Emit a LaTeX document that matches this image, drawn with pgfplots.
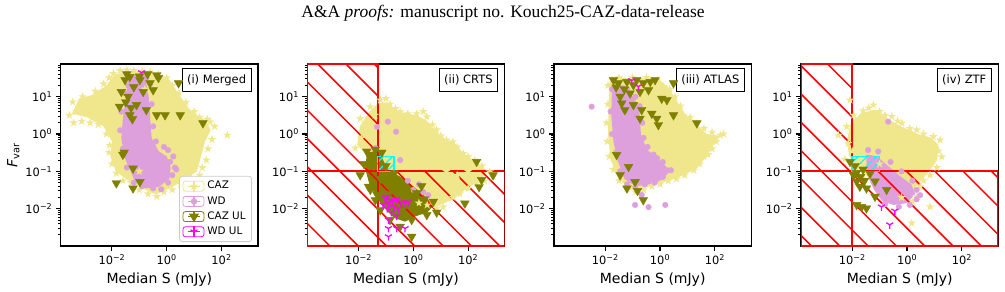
\documentclass[border=0pt]{standalone}
\usepackage{fontspec}
\setmainfont{DejaVu Sans}
\newfontfamily\serif{Liberation Serif}
\usepackage{pgfplots}
\pgfplotsset{compat=1.18}

\definecolor{caz}{HTML}{F0E68C}
\definecolor{wd}{HTML}{DDA0DD}
\definecolor{cazul}{HTML}{808000}
\definecolor{wdul}{HTML}{FF00FF}
\definecolor{hred}{HTML}{FF0000}
\definecolor{hcyan}{HTML}{00FFFF}

\pgfdeclareplotmark{fstar}{%
  \pgfpathmoveto{\pgfpointpolar{90}{\pgfplotmarksize}}%
  \pgfpathlineto{\pgfpointpolar{126}{0.382\pgfplotmarksize}}%
  \pgfpathlineto{\pgfpointpolar{162}{\pgfplotmarksize}}%
  \pgfpathlineto{\pgfpointpolar{198}{0.382\pgfplotmarksize}}%
  \pgfpathlineto{\pgfpointpolar{234}{\pgfplotmarksize}}%
  \pgfpathlineto{\pgfpointpolar{270}{0.382\pgfplotmarksize}}%
  \pgfpathlineto{\pgfpointpolar{306}{\pgfplotmarksize}}%
  \pgfpathlineto{\pgfpointpolar{342}{0.382\pgfplotmarksize}}%
  \pgfpathlineto{\pgfpointpolar{18}{\pgfplotmarksize}}%
  \pgfpathlineto{\pgfpointpolar{54}{0.382\pgfplotmarksize}}%
  \pgfpathclose
  \pgfusepathqfill
}

\tikzset{
  ptitle/.style={draw=black, fill=white, anchor=north east, line width=0.9pt, font=\fontsize{11.5}{13}\selectfont, inner xsep=5pt, minimum height=23pt, xshift=-6.5pt, yshift=-4.3pt},
}

\pgfplotsset{
  mypanel/.style={
    scale only axis, width=197.3pt, height=182pt,
    xmin=1.35e-4, xmax=2140, ymin=1e-3, ymax=75,
    xtick={1e-2,1,1e2},
    xticklabels={10\textsuperscript{−2},10\textsuperscript{0},10\textsuperscript{2}},
    ytick={1e-2,1e-1,1,10},
    yticklabels={10\textsuperscript{−2},10\textsuperscript{−1},10\textsuperscript{0},10\textsuperscript{1}},
    xminorticks=false,
    minor ytick={2e-3,3e-3,4e-3,5e-3,6e-3,7e-3,8e-3,9e-3,2e-2,3e-2,4e-2,5e-2,6e-2,7e-2,8e-2,9e-2,0.2,0.3,0.4,0.5,0.6,0.7,0.8,0.9,2,3,4,5,6,7,8,9,20,30,40,50,60,70},
    tick align=outside, tick pos=left,
    major tick length=4.9pt, minor tick length=2.8pt,
    major tick style={black, line width=1.1pt},
    minor tick style={black, line width=0.8pt},
    axis line style={line width=1.1pt},
    tick label style={font=\fontsize{11.4}{13}\selectfont},
    xlabel={Median S (mJy)},
    label style={font=\fontsize{14}{16}\selectfont},
    xlabel style={at={(axis description cs:0.5,-0.205)}, anchor=base},
  },
}

% selection-limit overlay: #1 = S limit (vertical line), #2 = offset of the first hatch line along the bottom edge, #3 = right edge of the cyan box
\newcommand{\hatchzone}[3]{%
  \pgfplotsextra{%
    \begin{scope}
      \clip (axis cs:1.35e-4,1e-3) rectangle (axis cs:#1,75)
            (axis cs:1.35e-4,1e-3) rectangle (axis cs:2140,0.1);
      \path (rel axis cs:0,0) coordinate (hzO);
      \foreach \k in {0,...,14} {\draw[hred, line width=1.5pt] ([xshift={#2pt+28.3pt*\k}]hzO) -- ++(-200pt,200pt);}
    \end{scope}
    \begin{scope}
      \clip (axis cs:#1,0.1) rectangle (axis cs:#3,0.25);
      \path (axis cs:#1,0.1) coordinate (hzC);
      \foreach \k in {-3,...,4} {\draw[hcyan, line width=1.1pt] ([xshift={9pt*\k}]hzC) -- ++(30pt,30pt);}
    \end{scope}
    \draw[hred, line width=2pt] (axis cs:1.35e-4,1e-3) rectangle (axis cs:#1,75);
    \draw[hred, line width=2pt] (axis cs:1.35e-4,1e-3) rectangle (axis cs:2140,0.1);
    \draw[hcyan, line width=1.5pt] (axis cs:#1,0.1) rectangle (axis cs:#3,0.25);
  }%
}

\begin{document}
\begin{tikzpicture}
\path[use as bounding box] (0,0) rectangle (1005pt,292pt);
\node[font=\serif\fontsize{17.5}{20}\selectfont, anchor=base] at (503pt,274pt) {A\&A \textit{proofs:} manuscript no. Kouch25-CAZ-data-release};

% ---------------- (i) Merged
\begin{loglogaxis}[mypanel, at={(60.7pt,46pt)}, anchor=south west,
  ylabel={\textit{F}\textsubscript{var}},
  ylabel style={at={(axis description cs:-0.24,0.5)}, anchor=center},
  legend style={at={(rel axis cs:1,0)}, anchor=south east, xshift=-6pt, yshift=4pt,
    draw=black!20, line width=0.8pt, rounded corners=2.5pt, fill=white,
    font=\fontsize{10.4}{12}\selectfont, row sep=1.5pt, inner xsep=3pt, inner ysep=3pt,
    nodes={inner xsep=3pt, inner ysep=2pt, text height=7.6pt, text depth=2.1pt}},
  legend cell align=left]
\addplot[draw=none, fill=caz, forget plot] coordinates {(3.5e-4,3.5) (6.3e-4,8.9) (2e-3,11.2) (6.3e-3,20) (1.26e-2,40) (6.3e-2,48) (0.4,42) (1.26,28) (3.16,10) (7.9,4) (28,2.24) (40,1.26) (25,0.63) (17.8,0.25) (12.6,0.1) (4,0.056) (1.26,0.035) (0.4,0.024) (0.126,0.035) (0.032,0.063) (0.014,0.1) (8.9e-3,0.25) (0.01,0.63) (5e-3,1.58) (1.26e-3,2.8)};
\addplot[only marks, mark=fstar, mark size=4.5pt, color=caz,
  legend image code/.code={
    \path (-5pt,-5pt) rectangle (16pt,5pt);
    \draw[caz, line width=1.2pt] (0pt,0pt)--(12pt,0pt) (6pt,-5.5pt)--(6pt,5.5pt);
    \draw[caz, only marks, mark=fstar, mark size=4.5pt] plot coordinates {(6pt,0pt)};}]
  coordinates {(2.8e-4,3.2) (3.7e-4,7.2) (5e-4,4) (8.5e-4,10) (1.6e-3,7.1) (2.5e-3,14) (3.5e-3,5.6) (5e-3,22) (7.9e-3,32) (0.0112,42) (0.02,50) (0.035,52) (0.063,50) (0.126,48) (0.25,46) (0.5,40) (1,32) (1.6,20) (2.8,12.6) (5,7.1) (6.2,3.5) (10,4) (16,2.8) (30,2.5) (39,2.1) (56,1.6) (162,0.93) (45,0.71) (32,0.4) (28,0.2) (20,0.126) (16,0.079) (7.9,0.063) (3.2,0.045) (1.6,0.032) (0.79,0.028) (0.43,0.021) (0.21,0.025) (0.1,0.032) (0.05,0.05) (0.025,0.056) (0.0145,0.089) (0.01,0.16) (7.9e-3,0.32) (8.3e-3,0.5) (6.3e-3,1) (3.2e-3,1.8) (1.6e-3,2) (7.9e-4,2.2) (4e-4,2) (4,0.2) (7.9,0.5) (2,2) (12.6,1) (2.5e-3,3.2) (0.16,16) (2,0.1) (0.016,7.9) (6.3e-3,7.9) (0.1,0.1) (1,3.2) (1.6e-3,4)};
\addlegendentry{CAZ}
\addplot[draw=none, fill=wd, forget plot] coordinates {(0.04,32) (0.16,35) (0.22,10) (0.25,2.5) (0.28,0.79) (0.5,0.35) (1,0.25) (1.4,0.126) (1.26,0.063) (0.5,0.038) (0.16,0.035) (0.063,0.063) (0.028,0.25) (0.022,0.79) (0.025,2.5) (0.032,10)};
\addplot[only marks, mark=*, mark size=2.8pt, color=wd,
  legend image code/.code={
    \path (-5pt,-5pt) rectangle (16pt,5pt);
    \draw[wd, line width=1.2pt] (0pt,0pt)--(12pt,0pt) (6pt,-5.5pt)--(6pt,5.5pt);
    \draw[wd, only marks, mark=*, mark size=2.8pt] plot coordinates {(6pt,0pt)};}]
  coordinates {(0.12,38) (0.25,22) (0.28,6.3) (0.32,1.6) (0.4,0.63) (0.79,0.45) (1.12,0.37) (1.74,0.25) (1.32,0.18) (2,0.126) (1.6,0.079) (1.12,0.05) (0.63,0.033) (0.32,0.035) (0.126,0.04) (0.063,0.05) (0.035,0.126) (0.025,0.4) (0.02,1.26) (0.022,4) (0.028,12.6) (0.04,20) (0.063,32) (0.18,32) (2.24,0.112) (0.63,0.063) (1,0.1) (0.1,1) (0.05,0.32)};
\addlegendentry{WD}
\addplot[only marks, mark=triangle*, mark size=5pt, color=cazul, mark options={rotate=180},
  legend image code/.code={
    \path (-5pt,-5pt) rectangle (16pt,5pt);
    \draw[cazul, line width=1.2pt] (0pt,0pt)--(12pt,0pt) (6pt,-5.5pt)--(6pt,5.5pt);
    \draw[cazul, only marks, mark=triangle*, mark size=5pt, mark options={rotate=180}] plot coordinates {(6pt,0pt)};}]
  coordinates {(0.045,34) (0.105,28) (0.43,38) (2.7,23) (0.245,23) (0.022,13.5) (0.039,10) (0.019,5.4) (0.079,6) (0.18,4.4) (0.045,3.2) (0.43,3.2) (0.87,3.2) (3.1,3.2) (21,1.95) (0.025,0.28) (0.059,0.12) (0.105,0.052) (0.0145,0.048) (0.059,0.035) (0.03,28) (0.138,13.5) (0.32,15) (0.5,32) (0.063,18) (0.032,7.1) (0.05,5) (0.1,35) (0.2,40) (0.035,40) (0.056,2.5) (0.028,0.32)};
\addlegendentry{CAZ UL}
\addplot[only marks, mark=Mercedes star flipped, mark size=4pt, color=wdul, mark options={line width=1.3pt},
  legend image code/.code={
    \path (-5pt,-5pt) rectangle (16pt,5pt);
    \draw[wdul, line width=1.2pt] (0pt,0pt)--(12pt,0pt) (6pt,-5.5pt)--(6pt,5.5pt);
    \draw[wdul, only marks, mark=Mercedes star flipped, mark size=4pt, mark options={line width=1.3pt}] plot coordinates {(6pt,0pt)};}]
  coordinates {(0.12,44)};
\addlegendentry{WD UL}
\node[ptitle] at (rel axis cs:1,1) {(i) Merged};
\end{loglogaxis}

% ---------------- (ii) CRTS
\begin{loglogaxis}[mypanel, at={(307.3pt,46pt)}, anchor=south west]
\addplot[draw=none, fill=caz] coordinates {(8.9e-3,0.5) (0.0112,1.6) (0.025,4) (0.05,6.6) (0.112,7.1) (0.25,4) (1.26,3.2) (3.2,2.24) (7.1,1.12) (16,0.71) (32,0.56) (63,0.32) (158,0.19) (500,0.105) (316,0.063) (79,0.032) (20,0.016) (6.3,0.0112) (1,0.016) (0.1,0.1) (0.025,0.25)};
\addplot[only marks, mark=fstar, mark size=4.5pt, color=caz] coordinates {(7.6e-3,0.42) (0.0115,2.6) (0.016,1.26) (0.027,5.4) (0.04,3.2) (0.063,8.1) (0.1,8.9) (0.141,6.3) (0.224,4.8) (0.33,4) (0.63,3.5) (1.32,3.5) (2.3,4) (3.1,2.9) (5,1.78) (7.1,1.29) (10,0.89) (16.2,0.69) (28,0.62) (40,0.45) (66,0.3) (100,0.25) (174,0.2) (316,0.141) (617,0.098) (813,0.072) (398,0.056) (204,0.048) (100,0.035) (50,0.025) (28,0.02) (12.3,0.0112) (7.1,0.0102) (3.2,0.0126) (1.6,0.0141) (16,0.1) (3.2,0.32) (40,0.079) (1,1) (0.32,1.6) (10,0.25) (0.025,1.6) (0.0126,0.79) (100,0.1) (20,0.04)};
\addplot[only marks, mark=*, mark size=2.8pt, color=wd] coordinates {(0.117,2.14) (0.047,1.55) (0.234,1.15) (0.041,0.42) (0.33,0.2) (2.3,0.028) (1,0.032) (3.5,0.023) (0.63,0.056) (1.6,0.045)};
\addplot[draw=none, fill=cazul] coordinates {(0.02,0.32) (0.05,0.35) (0.079,0.2) (0.126,0.1) (0.35,0.071) (0.79,0.045) (1.78,0.028) (3.5,0.0178) (5,0.0112) (3.2,7.9e-3) (1.26,6.3e-3) (0.5,4.5e-3) (0.2,5.6e-3) (0.079,0.0112) (0.045,0.02) (0.025,0.045) (0.0178,0.112)};
\addplot[only marks, mark=triangle*, mark size=5pt, color=cazul, mark options={rotate=180}] coordinates {(0.0115,0.079) (0.027,0.032) (0.047,0.024) (0.02,0.34) (0.041,0.38) (0.071,0.32) (0.1,0.141) (0.2,0.089) (0.58,0.028) (1.32,0.026) (2,0.04) (5.4,0.0155) (7.1,7.9e-3) (3.1,6.8e-3) (1.6,0.01) (0.87,5e-3) (0.87,1.78e-3) (0.33,3.3e-3) (0.141,5e-3) (0.062,9.1e-3) (0.041,0.017) (0.023,0.039) (0.0158,0.158) (76,0.0138) (204,0.18) (813,0.079) (309,0.059) (251,0.038) (2.5,0.0178) (0.5,0.0126) (0.126,0.025) (0.063,0.063) (0.25,0.032) (1,0.02) (0.035,0.141) (0.35,8.9e-3)};
\addplot[only marks, mark=Mercedes star flipped, mark size=4pt, color=wdul, mark options={line width=1.3pt}] coordinates {(0.093,0.019) (0.107,0.021) (0.141,0.017) (0.178,0.0158) (0.25,0.0178) (0.126,0.0141) (0.2,0.0112) (0.35,0.0148) (0.5,0.0141) (0.66,0.0148) (0.112,0.01) (0.158,7.9e-3) (0.123,5e-3) (0.25,6.3e-3) (0.123,2.95e-3) (0.25,2.95e-3) (0.5,2.95e-3) (0.123,1.78e-3) (0.28,0.01) (0.079,0.0126)};
\hatchzone{0.05}{22.6}{0.2}
\node[ptitle] at (rel axis cs:1,1) {(ii) CRTS};
\end{loglogaxis}

% ---------------- (iii) ATLAS
\begin{loglogaxis}[mypanel, at={(554pt,46pt)}, anchor=south west]
\addplot[draw=none, fill=caz] coordinates {(0.0141,25) (0.02,32) (0.79,32) (2,17.8) (4,7.9) (7.9,3.5) (22,1.78) (50,1) (158,0.89) (79,0.45) (50,0.25) (20,0.112) (5,0.071) (1.26,0.05) (0.25,0.035) (0.079,0.032) (0.032,0.063) (0.0158,0.2) (0.0126,1) (0.0132,5)};
\addplot[only marks, mark=fstar, mark size=4.5pt, color=caz] coordinates {(0.0126,20) (0.0126,6.3) (0.0112,2) (0.012,0.63) (0.0141,0.25) (0.02,0.112) (0.032,0.056) (0.063,0.035) (0.126,0.028) (0.25,0.032) (0.5,0.04) (1,0.045) (2,0.056) (4,0.063) (7.9,0.079) (17,0.107) (28,0.158) (40,0.245) (56,0.28) (79,0.4) (112,0.63) (158,0.93) (209,1) (79,1.12) (40,1.41) (22,1.95) (12.6,2.8) (7.2,3.2) (5.6,5.6) (3.5,10) (2.24,15.8) (1.32,18.6) (0.79,28) (0.32,33) (0.1,32) (0.032,32) (0.0178,28) (10,0.5) (3.2,1) (20,0.32) (2.5,0.158)};
\addplot[draw=none, fill=wd] coordinates {(0.0178,20) (0.05,20) (0.126,7.9) (0.178,4) (0.2,1) (0.32,0.4) (0.63,0.25) (1.58,0.141) (2,0.089) (1,0.056) (0.4,0.045) (0.126,0.04) (0.05,0.063) (0.028,0.2) (0.02,0.63) (0.0166,3.2)};
\addplot[only marks, mark=*, mark size=2.8pt, color=wd] coordinates {(0.0178,15.8) (0.025,8.9) (0.063,15.8) (0.126,10) (0.178,5.6) (0.224,2) (0.25,0.79) (0.35,0.45) (0.58,0.28) (0.79,0.224) (1.26,0.178) (1.78,0.107) (2.5,0.107) (1.26,0.071) (0.63,0.05) (0.28,0.045) (0.126,0.038) (0.063,0.045) (0.035,0.1) (0.025,0.32) (0.0178,1) (0.0158,4) (3.2e-3,5.4) (0.123,0.0126) (0.38,0.011) (1.55,0.0126) (0.214,0.0234) (0.5,0.071) (1,0.089)};
\addplot[only marks, mark=triangle*, mark size=5pt, color=cazul, mark options={rotate=180}] coordinates {(0.03,23) (0.062,25) (0.107,20.4) (0.245,23) (0.44,25) (0.66,28) (0.186,13.5) (0.081,12.3) (0.035,10) (0.04,6.6) (0.052,4.4) (0.107,6) (0.214,4.4) (0.186,2.6) (0.5,3.5) (0.76,2.6) (0.87,1.74) (1.15,8.9) (1.78,8.1) (3.1,23) (3.1,3.2) (22,1.95) (0.026,0.275) (0.071,0.132) (0.035,0.079) (0.062,0.035) (0.123,0.052) (0.151,0.03) (0.245,0.017) (0.02,28) (0.38,15) (0.05,15.8) (0.141,28) (0.025,17.8)};
\addplot[only marks, mark=Mercedes star flipped, mark size=4pt, color=wdul, mark options={line width=1.3pt}] coordinates {(0.093,27) (0.162,18.6)};
\node[ptitle] at (rel axis cs:1,1) {(iii) ATLAS};
\end{loglogaxis}

% ---------------- (iv) ZTF
\begin{loglogaxis}[mypanel, at={(801pt,46pt)}, anchor=south west]
\addplot[draw=none, fill=caz] coordinates {(6.3e-3,0.63) (8.9e-3,2) (0.02,3.5) (0.063,4.5) (0.2,2.5) (0.63,1.58) (2.5,1) (7.9,0.79) (14.1,0.5) (12.6,0.2) (6.3,0.1) (2.5,0.045) (1.26,0.025) (0.32,0.032) (0.05,0.063) (0.0158,0.112) (7.9e-3,0.25)};
\addplot[only marks, mark=fstar, mark size=4.5pt, color=caz] coordinates {(8.3e-3,8.1) (0.059,6) (3.1e-3,0.93) (5.4e-3,0.21) (7.1e-3,0.56) (6.3e-3,1.58) (0.0112,3.2) (0.025,4.2) (0.04,5) (0.1,4) (0.158,3.2) (0.275,2.95) (0.45,2.24) (0.65,1.95) (1.26,1.41) (2.24,1.29) (4,1) (9.1,0.85) (16.2,0.69) (18.6,0.245) (14.1,0.35) (12.3,0.126) (6.9,0.079) (4,0.056) (3,0.039) (2.24,0.021) (6.9,0.0112) (1.48,4.1e-3) (1.58,0.0158) (0.63,0.02) (0.0145,0.107) (0.025,0.079) (0.01,0.35) (3.2,0.32) (0.32,1) (0.032,1) (1,0.158) (0.1,0.158)};
\addplot[draw=none, fill=wd] coordinates {(0.032,0.28) (0.079,0.25) (0.2,0.141) (0.5,0.079) (1.41,0.045) (2,0.025) (1,0.0141) (0.32,0.0126) (0.126,0.0158) (0.063,0.032) (0.035,0.079)};
\addplot[only marks, mark=*, mark size=2.8pt, color=wd] coordinates {(0.038,0.37) (0.089,0.34) (0.204,2.14) (3,0.023) (2.24,0.032) (0.25,0.178) (0.63,0.1) (1.58,0.056) (2.24,0.0178) (1.26,0.0126) (0.5,0.0112) (0.158,0.0132) (0.05,0.224)};
\addplot[only marks, mark=triangle*, mark size=5pt, color=cazul, mark options={rotate=180}] coordinates {(8.3e-3,0.18) (0.0145,0.091) (0.025,0.112) (0.0145,0.054) (0.019,0.039) (0.033,0.035) (0.068,0.054) (0.18,0.032) (0.068,0.021) (0.0145,0.0126) (0.022,0.0112) (0.033,0.0102) (0.045,0.087) (0.0112,0.079) (0.02,0.071) (0.028,0.056) (0.0126,0.141)};
\addplot[only marks, mark=Mercedes star flipped, mark size=4pt, color=wdul, mark options={line width=1.3pt}] coordinates {(0.117,0.0112) (0.36,8.7e-3) (0.234,3.7e-3)};
\hatchzone{0.01}{10.5}{0.1}
\node[ptitle] at (rel axis cs:1,1) {(iv) ZTF};
\end{loglogaxis}
\end{tikzpicture}
\end{document}
